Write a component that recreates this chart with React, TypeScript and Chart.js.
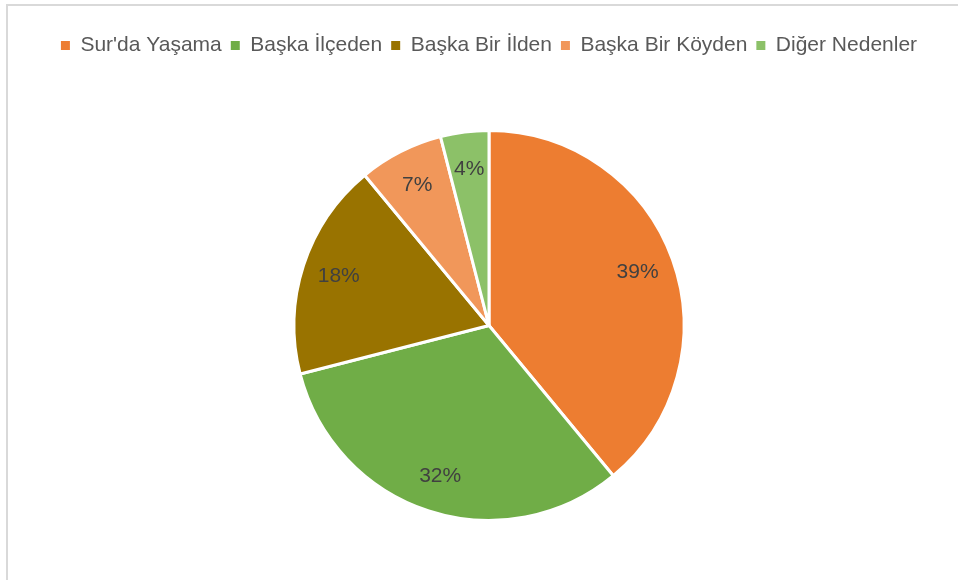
import React, { useEffect, useRef } from "react";
import { Chart, registerables } from "chart.js";

Chart.register(...registerables);

const categories = ["Sur'da Yaşama", "Başka İlçeden", "Başka Bir İlden", "Başka Bir Köyden", "Diğer Nedenler"];
const values = [39, 32, 18, 7, 4];
const valueLabels = ["39%", "32%", "18%", "7%", "4%"];
const colors = ["#ED7D31", "#70AD47", "#997300", "#F1975A", "#8CC168"];

const FONT = "'Liberation Sans', Arial, sans-serif";

const labelPlugin = {
  id: "sliceLabels",
  afterDatasetsDraw(chart: any) {
    const ctx = chart.ctx;
    const meta = chart.getDatasetMeta(0);
    ctx.save();
    ctx.font = `21px ${FONT}`;
    ctx.fillStyle = "#404040";
    ctx.textAlign = "center";
    ctx.textBaseline = "middle";
    meta.data.forEach((arc: any, i: number) => {
      const p = arc.getProps(["x", "y", "startAngle", "endAngle", "outerRadius"], true);
      const mid = (p.startAngle + p.endAngle) / 2;
      const r = p.outerRadius * 0.81;
      ctx.fillText(valueLabels[i], p.x + Math.cos(mid) * r, p.y + Math.sin(mid) * r);
    });
    ctx.restore();
  },
};

export default function App() {
  const ref = useRef<HTMLCanvasElement>(null);
  useEffect(() => {
    if (!ref.current) return;
    const chart = new Chart(ref.current, {
      type: "pie",
      data: {
        labels: categories,
        datasets: [
          {
            data: values,
            backgroundColor: colors,
            borderColor: "#ffffff",
            borderWidth: 3,
          },
        ],
      },
      options: {
        responsive: false,
        animation: false,
        radius: 195,
        layout: { padding: { top: 26, left: 20, right: 0, bottom: 20 } },
        plugins: {
          tooltip: { enabled: false },
          legend: {
            position: "top",
            labels: {
              boxWidth: 9,
              boxHeight: 9,
              padding: 9,
              color: "#595959",
              font: { size: 21, family: FONT },
              generateLabels(chart: any) {
                const items = Chart.overrides.pie.plugins.legend.labels.generateLabels(chart);
                return items.map((it: any) => ({ ...it, lineWidth: 0, strokeStyle: it.fillStyle }));
              },
            },
          },
        },
      },
      plugins: [labelPlugin],
    });
    return () => chart.destroy();
  }, []);
  return (
    <div style={{ position: "fixed", left: 0, top: 0, width: 958, height: 580, background: "#fff", overflow: "hidden" }}>
      <div
        style={{
          position: "absolute",
          left: 6,
          top: 4,
          right: 0,
          bottom: 0,
          borderTop: "2px solid #d9d9d9",
          borderLeft: "2px solid #d9d9d9",
        }}
      />
      <canvas ref={ref} width={958} height={605} style={{ position: "absolute", left: 0, top: 0 }} />
    </div>
  );
}
